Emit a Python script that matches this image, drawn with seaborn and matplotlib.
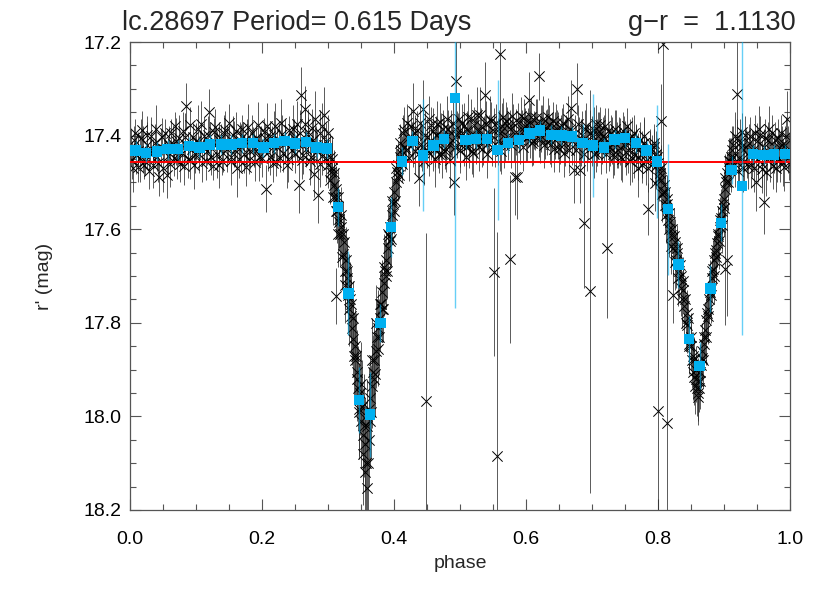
import numpy as np
import pandas as pd
import matplotlib
matplotlib.use("Agg")
import matplotlib.pyplot as plt
from matplotlib.ticker import MultipleLocator, FormatStrFormatter
import seaborn as sns

# --- binned light curve (cyan squares) ---
bin_phase = [0.0081, 0.0242, 0.0403, 0.0565, 0.0726, 0.0887, 0.1048, 0.1210, 0.1371, 0.1532,
             0.1694, 0.1855, 0.2016, 0.2177, 0.2339, 0.2500, 0.2661, 0.2823, 0.2984, 0.3145,
             0.3306, 0.3468, 0.3629, 0.3790, 0.3952, 0.4113, 0.4274, 0.4435, 0.4597, 0.4758,
             0.4919, 0.5081, 0.5242, 0.5403, 0.5565, 0.5726, 0.5887, 0.6048, 0.6210, 0.6371,
             0.6532, 0.6694, 0.6855, 0.7016, 0.7177, 0.7339, 0.7500, 0.7661, 0.7823, 0.7984,
             0.8145, 0.8306, 0.8468, 0.8629, 0.8790, 0.8952, 0.9113, 0.9274, 0.9435, 0.9597,
             0.9758, 0.9919]
bin_mag = [17.432, 17.437, 17.434, 17.429, 17.429, 17.422, 17.425, 17.419, 17.419, 17.419,
           17.416, 17.416, 17.425, 17.416, 17.412, 17.417, 17.413, 17.425, 17.427, 17.552,
           17.737, 17.965, 17.996, 17.800, 17.595, 17.455, 17.411, 17.442, 17.421, 17.407,
           17.319, 17.409, 17.407, 17.407, 17.431, 17.416, 17.409, 17.395, 17.389, 17.398,
           17.400, 17.402, 17.416, 17.421, 17.425, 17.408, 17.405, 17.416, 17.432, 17.455,
           17.557, 17.675, 17.835, 17.892, 17.727, 17.586, 17.474, 17.507, 17.439, 17.441,
           17.440, 17.439]
bin_err = [0.02, 0.02, 0.02, 0.02, 0.02, 0.02, 0.02, 0.02, 0.02, 0.02,
           0.02, 0.02, 0.02, 0.02, 0.02, 0.02, 0.02, 0.02, 0.02, 0.04,
           0.09, 0.07, 0.09, 0.04, 0.065, 0.03, 0.02, 0.12, 0.02, 0.02,
           0.45, 0.02, 0.02, 0.02, 0.15, 0.02, 0.02, 0.02, 0.02, 0.02,
           0.02, 0.02, 0.04, 0.11, 0.02, 0.02, 0.02, 0.02, 0.02, 0.12,
           0.14, 0.05, 0.05, 0.05, 0.05, 0.04, 0.03, 0.32, 0.02, 0.02,
           0.02, 0.02]

# --- individual measurements (black crosses), first set ---
phase = [
    # out of eclipse, 0.0 - 0.3
    0.002, 0.005, 0.009, 0.012, 0.016, 0.019, 0.023, 0.026, 0.030, 0.034,
    0.037, 0.041, 0.044, 0.048, 0.051, 0.055, 0.058, 0.062, 0.066, 0.069,
    0.073, 0.076, 0.080, 0.085, 0.088, 0.091, 0.095, 0.098, 0.102, 0.105,
    0.109, 0.112, 0.116, 0.120, 0.123, 0.127, 0.130, 0.134, 0.137, 0.141,
    0.144, 0.148, 0.152, 0.155, 0.159, 0.162, 0.166, 0.170, 0.173, 0.177,
    0.180, 0.184, 0.187, 0.191, 0.195, 0.198, 0.202, 0.205, 0.209, 0.212,
    0.216, 0.220, 0.223, 0.227, 0.230, 0.234, 0.237, 0.241, 0.245, 0.248,
    0.252, 0.255, 0.259, 0.262, 0.265, 0.269, 0.272, 0.276, 0.278, 0.281,
    0.285, 0.288, 0.291, 0.294, 0.297, 0.300,
    # primary eclipse
    0.302, 0.304, 0.306, 0.308, 0.310, 0.312, 0.313, 0.316, 0.318, 0.320,
    0.322, 0.324, 0.326, 0.328, 0.330, 0.332, 0.334, 0.336, 0.338, 0.340,
    0.341, 0.343, 0.345, 0.347, 0.348, 0.350, 0.352, 0.353, 0.355, 0.356,
    0.358, 0.359, 0.361, 0.362, 0.364, 0.366, 0.368, 0.370, 0.372, 0.374,
    0.376, 0.378, 0.380, 0.382, 0.384, 0.386, 0.388, 0.390, 0.392, 0.394,
    0.396, 0.398, 0.400, 0.402, 0.404, 0.406, 0.408, 0.410, 0.312, 0.317,
    0.327, 0.337, 0.344, 0.351, 0.357, 0.363, 0.369, 0.375, 0.381, 0.387,
    0.393, 0.399, 0.405,
    # maximum between eclipses
    0.413, 0.416, 0.420, 0.423, 0.427, 0.428, 0.431, 0.434, 0.437, 0.440,
    0.443, 0.445, 0.448, 0.449, 0.452, 0.455, 0.458, 0.461, 0.464, 0.467,
    0.470, 0.473, 0.476, 0.479, 0.482, 0.485, 0.488, 0.490, 0.494, 0.496,
    0.499, 0.502, 0.505, 0.508, 0.511, 0.514, 0.517, 0.520, 0.523, 0.526,
    0.529, 0.532, 0.535, 0.538, 0.541, 0.544, 0.547, 0.5505, 0.553, 0.5556,
    0.558, 0.5596, 0.562, 0.565, 0.568, 0.571, 0.5747, 0.577, 0.580, 0.583,
    0.586, 0.589, 0.592, 0.595, 0.598, 0.601, 0.6035, 0.606, 0.609, 0.612,
    0.615, 0.6187, 0.621, 0.624, 0.627, 0.630, 0.633, 0.636, 0.639, 0.642,
    0.645, 0.648, 0.651, 0.654, 0.657, 0.660, 0.663, 0.668, 0.672, 0.677,
    0.680, 0.682, 0.6869, 0.689, 0.692, 0.696, 0.699, 0.702, 0.705, 0.708,
    0.711, 0.714, 0.717, 0.720, 0.722, 0.725, 0.728, 0.731, 0.734, 0.737,
    0.740, 0.743, 0.746, 0.749, 0.752, 0.755, 0.758, 0.761, 0.764, 0.767,
    0.769, 0.772, 0.775, 0.778, 0.781, 0.785, 0.787, 0.790, 0.793, 0.795,
    0.797, 0.7995, 0.804, 0.808,
    # secondary eclipse
    0.800, 0.802, 0.805, 0.807, 0.809, 0.811, 0.813, 0.813, 0.815, 0.817,
    0.819, 0.821, 0.822, 0.823, 0.825, 0.827, 0.829, 0.831, 0.833, 0.835,
    0.837, 0.839, 0.841, 0.843, 0.845, 0.847, 0.849, 0.851, 0.853, 0.855,
    0.857, 0.859, 0.861, 0.861, 0.863, 0.865, 0.867, 0.869, 0.871, 0.873,
    0.875, 0.877, 0.879, 0.881, 0.883, 0.885, 0.887, 0.889, 0.891, 0.893,
    0.895, 0.897, 0.899, 0.9005, 0.901, 0.903, 0.904, 0.905, 0.907, 0.909,
    0.911,
    # out of eclipse, 0.91 - 1.0
    0.913, 0.916, 0.919, 0.920, 0.923, 0.926, 0.929, 0.932, 0.935, 0.938,
    0.941, 0.944, 0.947, 0.9485, 0.951, 0.953, 0.957, 0.9606, 0.962, 0.965,
    0.968, 0.971, 0.974, 0.977, 0.980, 0.983, 0.986, 0.989, 0.992, 0.995,
    0.998,
]
mag = [
    17.452, 17.410, 17.441, 17.468, 17.405, 17.430, 17.455, 17.398, 17.437, 17.462,
    17.415, 17.445, 17.488, 17.402, 17.428, 17.484, 17.419, 17.395, 17.447, 17.412,
    17.433, 17.460, 17.390, 17.337, 17.425, 17.452, 17.403, 17.440, 17.385, 17.418,
    17.458, 17.400, 17.432, 17.350, 17.445, 17.392, 17.420, 17.462, 17.405, 17.438,
    17.388, 17.426, 17.455, 17.398, 17.431, 17.470, 17.410, 17.385, 17.440, 17.415,
    17.452, 17.395, 17.428, 17.406, 17.446, 17.420, 17.392, 17.513, 17.435, 17.401,
    17.458, 17.380, 17.425, 17.447, 17.396, 17.416, 17.462, 17.388, 17.430, 17.405,
    17.376, 17.506, 17.313, 17.442, 17.343, 17.400, 17.455, 17.383, 17.481, 17.420,
    17.527, 17.395, 17.443, 17.356, 17.412, 17.462,
    17.445, 17.478, 17.470, 17.505, 17.532, 17.515, 17.560, 17.578, 17.610, 17.595,
    17.652, 17.628, 17.690, 17.705, 17.740, 17.722, 17.786, 17.810, 17.835, 17.880,
    17.850, 17.905, 17.940, 17.985, 17.950, 18.010, 18.080, 18.040, 18.118, 18.060,
    18.153, 18.020, 18.050, 17.985, 17.960, 17.935, 17.905, 17.880, 17.860, 17.830,
    17.810, 17.790, 17.760, 17.735, 17.715, 17.690, 17.665, 17.640, 17.615, 17.595,
    17.570, 17.545, 17.520, 17.500, 17.478, 17.462, 17.445, 17.430, 17.742, 17.585,
    17.665, 17.790, 17.920, 17.980, 18.100, 18.010, 17.920, 17.855, 17.770, 17.700,
    17.625, 17.560, 17.490,
    17.395, 17.425, 17.372, 17.447, 17.410, 17.347, 17.432, 17.388, 17.491, 17.418,
    17.342, 17.455, 17.967, 17.402, 17.436, 17.378, 17.425, 17.450, 17.398, 17.420,
    17.370, 17.440, 17.405, 17.428, 17.385, 17.452, 17.410, 17.499, 17.283, 17.392,
    17.430, 17.373, 17.415, 17.445, 17.388, 17.420, 17.362, 17.438, 17.400, 17.356,
    17.425, 17.380, 17.412, 17.313, 17.440, 17.395, 17.368, 17.691, 17.418, 18.085,
    17.385, 17.226, 17.432, 17.360, 17.405, 17.378, 17.664, 17.420, 17.372, 17.489,
    17.489, 17.398, 17.358, 17.425, 17.380, 17.405, 17.324, 17.370, 17.415, 17.388,
    17.362, 17.273, 17.408, 17.375, 17.420, 17.385, 17.360, 17.410, 17.392, 17.428,
    17.372, 17.400, 17.420, 17.380, 17.438, 17.395, 17.365, 17.340, 17.474, 17.300,
    17.410, 17.474, 17.586, 17.385, 17.425, 17.733, 17.398, 17.440, 17.375, 17.415,
    17.390, 17.432, 17.400, 17.380, 17.640, 17.425, 17.395, 17.440, 17.385, 17.420,
    17.400, 17.445, 17.390, 17.418, 17.380, 17.430, 17.405, 17.448, 17.395, 17.425,
    17.470, 17.410, 17.440, 17.400, 17.455, 17.557, 17.425, 17.460, 17.415, 17.502,
    17.440, 17.988, 17.369, 17.204,
    17.458, 17.480, 17.495, 17.520, 17.505, 17.548, 17.535, 18.015, 17.580, 17.565,
    17.612, 17.600, 17.741, 17.640, 17.628, 17.665, 17.650, 17.690, 17.676, 17.725,
    17.710, 17.765, 17.750, 17.805, 17.790, 17.845, 17.830, 17.880, 17.870, 17.915,
    17.900, 17.940, 17.925, 17.958, 17.905, 17.890, 17.860, 17.845, 17.815, 17.795,
    17.770, 17.750, 17.725, 17.705, 17.685, 17.665, 17.645, 17.630, 17.610, 17.595,
    17.575, 17.560, 17.535, 17.684, 17.515, 17.500, 17.666, 17.480, 17.470, 17.455,
    17.445,
    17.420, 17.460, 17.311, 17.405, 17.448, 17.425, 17.470, 17.398, 17.440, 17.415,
    17.462, 17.430, 17.395, 17.500, 17.450, 17.386, 17.472, 17.541, 17.405, 17.445,
    17.386, 17.430, 17.465, 17.410, 17.450, 17.425, 17.395, 17.458, 17.420, 17.365,
    17.445,
]
mag_err = [
    0.04, 0.03, 0.04, 0.03, 0.04, 0.05, 0.03, 0.04, 0.03, 0.05,
    0.04, 0.03, 0.04, 0.04, 0.03, 0.05, 0.04, 0.03, 0.04, 0.05,
    0.03, 0.04, 0.04, 0.05, 0.03, 0.04, 0.03, 0.04, 0.05, 0.03,
    0.04, 0.04, 0.03, 0.05, 0.04, 0.03, 0.04, 0.05, 0.03, 0.04,
    0.04, 0.03, 0.05, 0.04, 0.03, 0.06, 0.04, 0.03, 0.04, 0.05,
    0.03, 0.04, 0.04, 0.03, 0.05, 0.04, 0.03, 0.05, 0.04, 0.03,
    0.04, 0.05, 0.04, 0.03, 0.04, 0.04, 0.05, 0.03, 0.04, 0.04,
    0.05, 0.06, 0.06, 0.04, 0.05, 0.04, 0.05, 0.04, 0.05, 0.04,
    0.06, 0.05, 0.04, 0.06, 0.04, 0.05,
    0.05, 0.05, 0.06, 0.05, 0.06, 0.05, 0.07, 0.06, 0.07, 0.06,
    0.07, 0.06, 0.08, 0.07, 0.08, 0.07, 0.08, 0.08, 0.08, 0.09,
    0.08, 0.09, 0.09, 0.10, 0.09, 0.10, 0.11, 0.10, 0.12, 0.10,
    0.12, 0.10, 0.10, 0.09, 0.09, 0.09, 0.08, 0.08, 0.08, 0.08,
    0.08, 0.07, 0.07, 0.07, 0.07, 0.07, 0.06, 0.06, 0.06, 0.06,
    0.06, 0.05, 0.05, 0.05, 0.05, 0.05, 0.04, 0.04, 0.06, 0.06,
    0.07, 0.08, 0.09, 0.10, 0.12, 0.10, 0.08, 0.08, 0.07, 0.07,
    0.06, 0.05, 0.05,
    0.04, 0.05, 0.04, 0.05, 0.04, 0.06, 0.05, 0.04, 0.06, 0.05,
    0.06, 0.05, 0.36, 0.04, 0.05, 0.04, 0.05, 0.06, 0.04, 0.05,
    0.04, 0.05, 0.04, 0.05, 0.04, 0.06, 0.04, 0.07, 0.12, 0.04,
    0.05, 0.04, 0.05, 0.05, 0.04, 0.05, 0.04, 0.05, 0.04, 0.06,
    0.05, 0.04, 0.05, 0.07, 0.05, 0.04, 0.04, 0.18, 0.05, 0.48,
    0.04, 0.25, 0.05, 0.04, 0.05, 0.04, 0.18, 0.05, 0.04, 0.08,
    0.09, 0.04, 0.04, 0.05, 0.04, 0.05, 0.06, 0.04, 0.05, 0.04,
    0.04, 0.05, 0.05, 0.04, 0.05, 0.04, 0.04, 0.05, 0.04, 0.05,
    0.04, 0.05, 0.04, 0.04, 0.05, 0.04, 0.05, 0.06, 0.07, 0.055,
    0.05, 0.07, 0.14, 0.04, 0.05, 0.43, 0.04, 0.05, 0.04, 0.05,
    0.04, 0.05, 0.04, 0.04, 0.15, 0.05, 0.04, 0.05, 0.04, 0.05,
    0.04, 0.05, 0.04, 0.05, 0.04, 0.05, 0.04, 0.05, 0.04, 0.05,
    0.06, 0.04, 0.05, 0.04, 0.05, 0.056, 0.04, 0.05, 0.04, 0.06,
    0.05, 0.55, 0.08, 0.30,
    0.05, 0.05, 0.06, 0.05, 0.05, 0.06, 0.05, 0.50, 0.06, 0.05,
    0.06, 0.05, 0.06, 0.06, 0.05, 0.06, 0.05, 0.06, 0.05, 0.06,
    0.05, 0.06, 0.05, 0.06, 0.05, 0.06, 0.05, 0.06, 0.05, 0.06,
    0.05, 0.06, 0.05, 0.06, 0.06, 0.05, 0.06, 0.05, 0.06, 0.05,
    0.06, 0.05, 0.06, 0.05, 0.06, 0.05, 0.06, 0.05, 0.06, 0.05,
    0.06, 0.05, 0.06, 0.12, 0.05, 0.05, 0.12, 0.05, 0.05, 0.05,
    0.04,
    0.04, 0.05, 0.15, 0.04, 0.05, 0.04, 0.05, 0.04, 0.05, 0.04,
    0.05, 0.04, 0.04, 0.06, 0.05, 0.05, 0.05, 0.07, 0.04, 0.05,
    0.05, 0.04, 0.05, 0.04, 0.05, 0.04, 0.04, 0.05, 0.04, 0.06,
    0.05,
]

# --- second set of measurements (fills in the dense band) ---
phase2 = [
    0.001, 0.004, 0.007, 0.011, 0.014, 0.018, 0.021, 0.025, 0.028, 0.032,
    0.035, 0.039, 0.042, 0.046, 0.050, 0.053, 0.057, 0.060, 0.064, 0.067,
    0.071, 0.074, 0.078, 0.082, 0.083, 0.087, 0.090, 0.093, 0.097, 0.100,
    0.104, 0.107, 0.111, 0.114, 0.118, 0.121, 0.125, 0.128, 0.132, 0.135,
    0.139, 0.142, 0.146, 0.150, 0.153, 0.157, 0.160, 0.164, 0.168, 0.171,
    0.175, 0.178, 0.182, 0.186, 0.189, 0.193, 0.196, 0.200, 0.204, 0.207,
    0.211, 0.214, 0.218, 0.221, 0.225, 0.228, 0.232, 0.235, 0.239, 0.243,
    0.246, 0.250, 0.253, 0.257, 0.260, 0.264, 0.267, 0.270, 0.274, 0.277,
    0.280, 0.283, 0.287, 0.290, 0.293, 0.296, 0.299,
    0.303, 0.305, 0.307, 0.309, 0.311, 0.314, 0.315, 0.319, 0.321, 0.323,
    0.325, 0.329, 0.331, 0.333, 0.335, 0.339, 0.342, 0.346, 0.349, 0.354,
    0.360, 0.365, 0.367, 0.371, 0.373, 0.377, 0.379, 0.383, 0.385, 0.389,
    0.391, 0.395, 0.397, 0.401, 0.403, 0.407, 0.409, 0.411,
    0.412, 0.415, 0.418, 0.421, 0.425, 0.429, 0.432, 0.436, 0.439, 0.442,
    0.446, 0.450, 0.453, 0.456, 0.459, 0.462, 0.465, 0.468, 0.471, 0.474,
    0.477, 0.480, 0.483, 0.486, 0.489, 0.492, 0.495, 0.498, 0.500, 0.503,
    0.506, 0.509, 0.512, 0.515, 0.518, 0.521, 0.524, 0.527, 0.530, 0.533,
    0.536, 0.539, 0.542, 0.545, 0.548, 0.551, 0.554, 0.557, 0.560, 0.563,
    0.566, 0.569, 0.572, 0.575, 0.578, 0.581, 0.584, 0.587, 0.590, 0.593,
    0.596, 0.599, 0.602, 0.605, 0.608, 0.611, 0.614, 0.617, 0.620, 0.623,
    0.626, 0.629, 0.632, 0.635, 0.638, 0.641, 0.644, 0.647, 0.650, 0.653,
    0.656, 0.659, 0.662, 0.665, 0.667, 0.670, 0.674, 0.676, 0.679, 0.683,
    0.685, 0.688, 0.691, 0.694, 0.697, 0.700, 0.703, 0.706, 0.709, 0.712,
    0.715, 0.718, 0.721, 0.724, 0.727, 0.730, 0.733, 0.736, 0.739, 0.742,
    0.745, 0.748, 0.751, 0.754, 0.757, 0.760, 0.763, 0.766, 0.770, 0.773,
    0.776, 0.779, 0.782, 0.784, 0.788, 0.791, 0.794, 0.796, 0.798,
    0.801, 0.804, 0.806, 0.810, 0.812, 0.814, 0.816, 0.818, 0.820, 0.824,
    0.826, 0.828, 0.830, 0.834, 0.836, 0.838, 0.842, 0.844, 0.846, 0.850,
    0.852, 0.854, 0.856, 0.858, 0.860, 0.862, 0.864, 0.866, 0.868, 0.870,
    0.872, 0.874, 0.876, 0.878, 0.880, 0.882, 0.884, 0.886, 0.888, 0.890,
    0.892, 0.894, 0.896, 0.898, 0.900, 0.902, 0.906, 0.908, 0.910, 0.912,
    0.914, 0.917, 0.921, 0.924, 0.927, 0.930, 0.933, 0.936, 0.939, 0.942,
    0.945, 0.949, 0.952, 0.955, 0.958, 0.961, 0.964, 0.967, 0.970, 0.973,
    0.976, 0.979, 0.982, 0.985, 0.988, 0.991, 0.994, 0.997, 0.999,
]
mag2 = [
    17.425, 17.470, 17.395, 17.433, 17.448, 17.387, 17.462, 17.420, 17.475, 17.400,
    17.438, 17.385, 17.458, 17.425, 17.470, 17.395, 17.443, 17.460, 17.418, 17.380,
    17.452, 17.405, 17.437, 17.465, 17.402, 17.450, 17.378, 17.428, 17.463, 17.412,
    17.440, 17.376, 17.425, 17.455, 17.398, 17.420, 17.465, 17.382, 17.440, 17.410,
    17.455, 17.395, 17.428, 17.372, 17.445, 17.418, 17.390, 17.450, 17.425, 17.400,
    17.468, 17.382, 17.432, 17.412, 17.456, 17.378, 17.425, 17.448, 17.405, 17.380,
    17.445, 17.420, 17.398, 17.456, 17.412, 17.372, 17.438, 17.405, 17.450, 17.420,
    17.385, 17.440, 17.415, 17.395, 17.452, 17.375, 17.428, 17.392, 17.445, 17.410,
    17.365, 17.432, 17.460, 17.380, 17.420, 17.448, 17.395,
    17.495, 17.450, 17.530, 17.480, 17.560, 17.530, 17.610, 17.570, 17.660, 17.610,
    17.720, 17.690, 17.770, 17.750, 17.760, 17.870, 17.870, 17.990, 17.930, 18.020,
    18.100, 17.990, 17.880, 17.910, 17.800, 17.830, 17.760, 17.770, 17.680, 17.690,
    17.610, 17.620, 17.540, 17.540, 17.470, 17.485, 17.415, 17.460,
    17.440, 17.388, 17.430, 17.405, 17.380, 17.418, 17.395, 17.440, 17.372, 17.425,
    17.398, 17.430, 17.365, 17.412, 17.390, 17.428, 17.375, 17.440, 17.402, 17.385,
    17.432, 17.365, 17.418, 17.395, 17.372, 17.425, 17.398, 17.365, 17.418, 17.395,
    17.380, 17.425, 17.360, 17.400, 17.432, 17.378, 17.410, 17.390, 17.355, 17.428,
    17.398, 17.375, 17.415, 17.365, 17.425, 17.390, 17.372, 17.412, 17.395, 17.380,
    17.420, 17.368, 17.402, 17.385, 17.358, 17.415, 17.392, 17.370, 17.410, 17.385,
    17.362, 17.405, 17.380, 17.398, 17.360, 17.412, 17.390, 17.372, 17.405, 17.385,
    17.365, 17.410, 17.392, 17.375, 17.418, 17.368, 17.400, 17.385, 17.428, 17.395,
    17.372, 17.415, 17.400, 17.430, 17.385, 17.412, 17.395, 17.430, 17.375, 17.415,
    17.398, 17.440, 17.380, 17.412, 17.395, 17.425, 17.388, 17.438, 17.400, 17.378,
    17.420, 17.405, 17.440, 17.390, 17.425, 17.410, 17.445, 17.395, 17.430, 17.412,
    17.450, 17.398, 17.435, 17.415, 17.455, 17.400, 17.440, 17.418, 17.445, 17.425,
    17.462, 17.415, 17.440, 17.470, 17.430, 17.448, 17.425, 17.465, 17.445,
    17.490, 17.470, 17.525, 17.520, 17.570, 17.545, 17.600, 17.585, 17.635, 17.615,
    17.670, 17.640, 17.705, 17.700, 17.750, 17.730, 17.800, 17.780, 17.850, 17.850,
    17.905, 17.880, 17.935, 17.920, 17.950, 17.940, 17.925, 17.875, 17.880, 17.830,
    17.830, 17.780, 17.785, 17.735, 17.740, 17.690, 17.700, 17.650, 17.660, 17.615,
    17.625, 17.580, 17.590, 17.545, 17.555, 17.490, 17.500, 17.455, 17.470, 17.430,
    17.445, 17.400, 17.475, 17.415, 17.392, 17.455, 17.425, 17.465, 17.400, 17.438,
    17.470, 17.412, 17.440, 17.398, 17.460, 17.425, 17.478, 17.410, 17.448, 17.395,
    17.440, 17.470, 17.405, 17.450, 17.420, 17.468, 17.400, 17.430, 17.460,
]
mag_err2 = [
    0.04, 0.05, 0.03, 0.04, 0.05, 0.04, 0.03, 0.05, 0.04, 0.04,
    0.03, 0.05, 0.04, 0.04, 0.05, 0.03, 0.04, 0.05, 0.04, 0.03,
    0.04, 0.05, 0.03, 0.04, 0.05, 0.04, 0.04, 0.03, 0.05, 0.04,
    0.04, 0.05, 0.03, 0.04, 0.04, 0.05, 0.03, 0.04, 0.05, 0.04,
    0.03, 0.04, 0.05, 0.04, 0.03, 0.05, 0.04, 0.04, 0.05, 0.03,
    0.04, 0.05, 0.04, 0.03, 0.04, 0.05, 0.04, 0.04, 0.03, 0.05,
    0.04, 0.04, 0.05, 0.03, 0.04, 0.05, 0.04, 0.04, 0.05, 0.03,
    0.05, 0.04, 0.04, 0.05, 0.04, 0.06, 0.04, 0.05, 0.04, 0.05,
    0.06, 0.04, 0.05, 0.05, 0.04, 0.05, 0.04,
    0.05, 0.05, 0.06, 0.05, 0.06, 0.06, 0.07, 0.06, 0.07, 0.07,
    0.08, 0.07, 0.08, 0.08, 0.08, 0.09, 0.09, 0.10, 0.09, 0.11,
    0.11, 0.10, 0.09, 0.09, 0.08, 0.08, 0.07, 0.07, 0.07, 0.06,
    0.06, 0.06, 0.05, 0.05, 0.05, 0.05, 0.04, 0.04,
    0.04, 0.05, 0.04, 0.05, 0.04, 0.05, 0.04, 0.05, 0.04, 0.05,
    0.05, 0.04, 0.05, 0.04, 0.05, 0.04, 0.05, 0.04, 0.05, 0.04,
    0.04, 0.05, 0.04, 0.05, 0.06, 0.04, 0.05, 0.04, 0.05, 0.04,
    0.05, 0.04, 0.05, 0.04, 0.05, 0.04, 0.05, 0.04, 0.06, 0.04,
    0.04, 0.05, 0.04, 0.05, 0.04, 0.05, 0.04, 0.05, 0.04, 0.05,
    0.05, 0.04, 0.05, 0.04, 0.05, 0.04, 0.05, 0.04, 0.05, 0.04,
    0.04, 0.05, 0.04, 0.05, 0.04, 0.05, 0.04, 0.05, 0.04, 0.05,
    0.05, 0.04, 0.05, 0.04, 0.05, 0.04, 0.05, 0.04, 0.05, 0.04,
    0.04, 0.05, 0.04, 0.05, 0.04, 0.05, 0.04, 0.05, 0.04, 0.05,
    0.05, 0.04, 0.05, 0.04, 0.05, 0.04, 0.05, 0.04, 0.05, 0.04,
    0.04, 0.05, 0.04, 0.05, 0.04, 0.05, 0.04, 0.05, 0.04, 0.05,
    0.05, 0.04, 0.05, 0.04, 0.05, 0.04, 0.05, 0.04, 0.05, 0.04,
    0.04, 0.05, 0.04, 0.05, 0.04, 0.05, 0.04, 0.05, 0.04,
    0.05, 0.05, 0.06, 0.05, 0.06, 0.05, 0.06, 0.05, 0.06, 0.06,
    0.06, 0.05, 0.06, 0.05, 0.06, 0.05, 0.06, 0.05, 0.06, 0.05,
    0.06, 0.05, 0.06, 0.05, 0.06, 0.05, 0.06, 0.05, 0.06, 0.05,
    0.06, 0.05, 0.06, 0.05, 0.06, 0.05, 0.06, 0.05, 0.06, 0.05,
    0.06, 0.05, 0.06, 0.05, 0.06, 0.05, 0.06, 0.05, 0.05, 0.05,
    0.04, 0.05, 0.04, 0.05, 0.04, 0.05, 0.04, 0.05, 0.04, 0.05,
    0.05, 0.04, 0.05, 0.04, 0.05, 0.04, 0.05, 0.04, 0.05, 0.04,
    0.04, 0.05, 0.04, 0.05, 0.04, 0.05, 0.04, 0.05, 0.04,
]

mean_mag = 17.457
title_left = "lc.28697 Period= 0.615 Days"
title_right = "g\u2212r  =  1.1130"

pts = pd.concat([
    pd.DataFrame({"phase": phase, "mag": mag, "err": mag_err}),
    pd.DataFrame({"phase": phase2, "mag": mag2, "err": mag_err2}),
], ignore_index=True)
bins = pd.DataFrame({"phase": bin_phase, "mag": bin_mag, "err": bin_err})

sns.set_style("ticks")
plt.rcParams["font.family"] = ["Liberation Sans", "DejaVu Sans"]

fig = plt.figure(figsize=(8.3, 5.93), dpi=100)
ax = fig.add_axes([0.157, 0.14, 0.795, 0.789])

# individual points with error bars
ax.errorbar(pts["phase"], pts["mag"], yerr=pts["err"], fmt="none",
            ecolor="#303030", elinewidth=0.7, alpha=0.8, zorder=1)
sns.scatterplot(data=pts, x="phase", y="mag", marker="x", s=55, color="black",
                linewidth=0.7, ax=ax, zorder=2, legend=False)

ax.axhline(mean_mag, color="red", lw=1.4, zorder=3)

# binned means
cyan = "#00b0f0"
ax.errorbar(bins["phase"], bins["mag"], yerr=bins["err"], fmt="none",
            ecolor=cyan, elinewidth=1.0, alpha=0.6, zorder=3.5)
sns.scatterplot(data=bins, x="phase", y="mag", marker="s", s=56, color=cyan,
                edgecolor="none", ax=ax, zorder=4, legend=False)

ax.set_xlim(0.0, 1.0)
ax.set_ylim(18.2, 17.2)
ax.xaxis.set_major_locator(MultipleLocator(0.2))
ax.xaxis.set_minor_locator(MultipleLocator(0.05))
ax.yaxis.set_major_locator(MultipleLocator(0.2))
ax.yaxis.set_minor_locator(MultipleLocator(0.05))
ax.xaxis.set_major_formatter(FormatStrFormatter("%.1f"))
ax.yaxis.set_major_formatter(FormatStrFormatter("%.1f"))
ax.tick_params(which="both", direction="in", top=True, right=True,
               colors="#555555", labelcolor="black", labelsize=14)
ax.tick_params(which="major", length=8, width=0.8)
ax.tick_params(which="minor", length=4, width=0.8)
ax.tick_params(axis="x", which="major", pad=15)
ax.tick_params(axis="y", which="major", pad=6)
for s in ax.spines.values():
    s.set_color("#555555")
    s.set_linewidth(0.9)

ax.set_xlabel("phase", fontsize=14, labelpad=5)
ax.set_ylabel("r' (mag)", fontsize=14, labelpad=22)

fig.text(0.147, 0.95, title_left, fontsize=19.5, ha="left", va="baseline")
fig.text(0.958, 0.95, title_right, fontsize=19.5, ha="right", va="baseline")

fig.savefig("out.png", dpi=100)
